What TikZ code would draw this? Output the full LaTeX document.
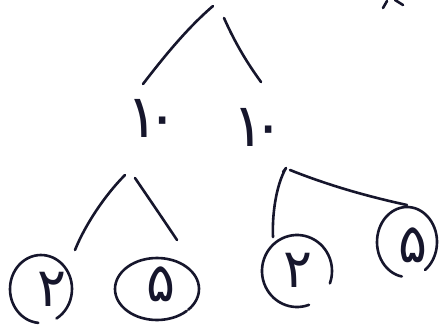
\documentclass[tikz,border=0pt]{standalone}
\usepackage{fontspec}
\newfontfamily\fafont[Script=Arabic]{DejaVu Sans}
\definecolor{ink}{HTML}{16162C}
\begin{document}
\begin{tikzpicture}[x=1pt,y=-1pt,
  pen/.style={draw=ink,line width=2.6pt,line cap=round,line join=round},
  dig/.style={text=ink,inner sep=0pt,font=\fafont\fontsize{60}{60}\selectfont},
  sdig/.style={text=ink,inner sep=0pt,font=\fafont\fontsize{54}{54}\selectfont}]
\useasboundingbox[fill=white] (0,0) rectangle (441,326);
% numbers
\node[dig] (ta) at (153,118) {۱\kern-12pt۰};
\node[dig] (tb) at (259,127) {۱\kern-12pt۰};
\node[sdig] (la) at (52,289) {۲};
\node[sdig] (lb) at (161,284) {۵};
\node[sdig] (ra) at (298,270) {۲};
\node[sdig] (rb) at (413,245) {۵};
% coordinates for hand-drawn connectors
\coordinate (top1) at (213,6);
\coordinate (top2) at (224,18);
\coordinate (ta1) at (143,84);
\coordinate (tb1) at (261,82);
\coordinate (ta2) at (125,175);
\coordinate (ta3) at (135,178);
\coordinate (la1) at (75,250);
\coordinate (lb1) at (177,240);
\coordinate (tb2) at (286,168);
\coordinate (tb3) at (290,170);
\coordinate (ra1) at (273,237);
\coordinate (rb1) at (407,205);
% top branch
\draw[pen] (top1) .. controls (185,30) and (160,62) .. (ta1);
\draw[pen] (top2) .. controls (236,45) and (248,64) .. (tb1);
% left subtree
\draw[pen] (ta2) .. controls (105,195) and (85,225) .. (la1);
\draw[pen] (ta3) .. controls (150,200) and (165,222) .. (lb1);
% right subtree
\draw[pen] (283,172) -- (tb2) .. controls (276,185) and (272,215) .. (ra1);
\draw[pen] (tb3) .. controls (330,186) and (370,197) .. (rb1);
% circles (hand-drawn, open)
\draw[pen] ([shift={(95:31 and 34)}]41,289) arc[start angle=95,end angle=420,x radius=31,y radius=34];
\draw[pen] ([shift={(45:42 and 31)}]157,289) arc[start angle=45,end angle=402,x radius=42,y radius=31];
\draw[pen] ([shift={(70:35 and 36)}]297,271) arc[start angle=70,end angle=380,x radius=35,y radius=36];
\draw[pen] ([shift={(100:30 and 35)}]407,242) arc[start angle=100,end angle=413,x radius=30,y radius=35];
% cut-off marks at top right
\draw[pen] (383,8) -- (387,1);
\draw[pen] (395,0) -- (403,5);
\end{tikzpicture}
\end{document}
